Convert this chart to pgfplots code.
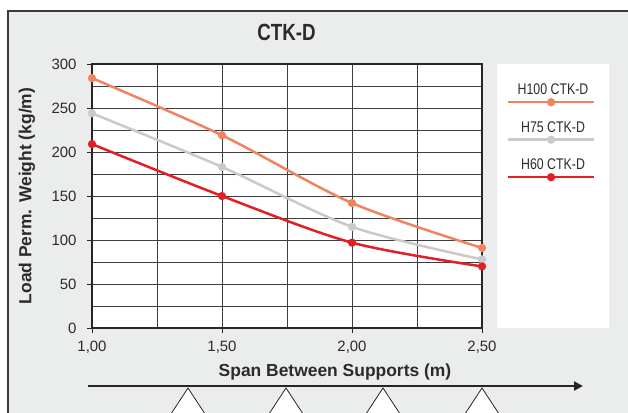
\documentclass[border=0pt]{standalone}
\usepackage{fontspec}
\setmainfont{Liberation Sans}
\newfontfamily\condfont[FakeStretch=0.8]{Liberation Sans}
\usepackage{pgfplots}
\pgfplotsset{compat=1.18}
\usetikzlibrary{arrows.meta}

\definecolor{bggray}{HTML}{EBECEC}
\definecolor{framegray}{HTML}{3A3A3A}
\definecolor{gridgray}{HTML}{3E3E3E}
\definecolor{axisdark}{HTML}{262626}
\definecolor{textdark}{HTML}{2B2B2B}
\definecolor{cHcent}{HTML}{F0845F}
\definecolor{cHsf}{HTML}{CACACA}
\definecolor{cHsix}{HTML}{E31E26}

\begin{document}
\begin{tikzpicture}[x=1bp,y=1bp]
% page and frame
\fill[white] (0,0) rectangle (628,-412);
\filldraw[fill=bggray, draw=framegray, line width=2bp] (8,-10.5) rectangle (650,-430);
% legend panel
\fill[white] (497,-64) rectangle (609,-328);

\begin{axis}[%
at={(92bp,-328bp)},
anchor=south west,
scale only axis,
width=390bp,
height=264bp,
xmin=1, xmax=2.5,
ymin=0, ymax=300,
xtick={1,1.5,2,2.5},
minor xtick={1.25,1.75,2.25},
ytick={0,50,...,300},
minor ytick={25,75,...,275},
grid=both,
major grid style={draw=gridgray, line width=1bp},
minor grid style={draw=gridgray, line width=1bp},
axis line style={draw=axisdark, line width=1.2bp},
tick align=outside,
tick pos=left,
major tick length=5bp,
minor tick length=0bp,
tick style={draw=axisdark, line width=1bp},
axis background/.style={fill=white},
clip=false,
/pgf/number format/assume math mode=true,
ticklabel style={font=\fontsize{15}{15}\selectfont, text=textdark},
x tick label style={yshift=-5bp, /pgf/number format/.cd, fixed, fixed zerofill, precision=2, use comma},
y tick label style={xshift=-7bp, /pgf/number format/.cd, fixed, precision=0},
title={CTK-D},
title style={font=\condfont\bfseries\fontsize{23.5}{23.5}\selectfont, text=textdark,
  at={(axis description cs:0.4987,1.098)}, anchor=center},
xlabel={Span Between Supports (m)},
xlabel style={font=\bfseries\fontsize{17.5}{17.5}\selectfont, text=textdark,
  at={(axis description cs:0.623,-0.168)}, anchor=center},
ylabel={Load Perm. Weight (kg/m)},
ylabel style={font=\bfseries\fontsize{17.5}{17.5}\selectfont, text=textdark,
  at={(axis description cs:-0.1667,0.5)}, anchor=center},
legend image code/.code={%
  \draw[#1, overlay, mark repeat=2, mark phase=2]
    plot coordinates {(0bp,-12bp) (43bp,-12bp) (86bp,-12bp)};},
legend style={at={(axis description cs:1.1821,0.9725)}, anchor=north,
  draw=none, fill=none, inner sep=0pt, row sep=0pt, column sep=0pt,
  font=\condfont\fontsize{15.5}{15.5}\selectfont, text=textdark,
  cells={anchor=west, inner xsep=0pt, inner ysep=0pt, minimum height=37.5bp}},
]
\addplot[smooth, color=cHcent, line width=2.5bp, mark=*, mark size=2.8bp,
  mark options={fill=cHcent, draw=cHcent}] coordinates {
(1,284) (1.5,219) (2,142) (2.5,91)};
\addlegendentry{\makebox[86bp][c]{H100 CTK-D}}

\addplot[smooth, color=cHsf, line width=2.5bp, mark=*, mark size=2.8bp,
  mark options={fill=cHsf, draw=cHsf}] coordinates {
(1,244) (1.5,183) (2,115) (2.5,78)};
\addlegendentry{\makebox[86bp][c]{H75 CTK-D}}

\addplot[smooth, color=cHsix, line width=2.5bp, mark=*, mark size=2.8bp,
  mark options={fill=cHsix, draw=cHsix}] coordinates {
(1,209) (1.5,150) (2,97) (2.5,70)};
\addlegendentry{\makebox[86bp][c]{H60 CTK-D}}
\end{axis}

% span arrow and supports
\draw[line width=2.5bp, axisdark, -{Triangle[length=9bp,width=9bp]}] (88,-386) -- (583,-386);
\foreach \sx in {188,286,383,482}{
  \filldraw[fill=white, draw=axisdark, line width=0.8bp]
    (\sx,-388) -- (\sx-21,-420) -- (\sx+21,-420) -- cycle;
}

\pgfresetboundingbox
\useasboundingbox (0,0) rectangle (628,-412);
\end{tikzpicture}
\end{document}
